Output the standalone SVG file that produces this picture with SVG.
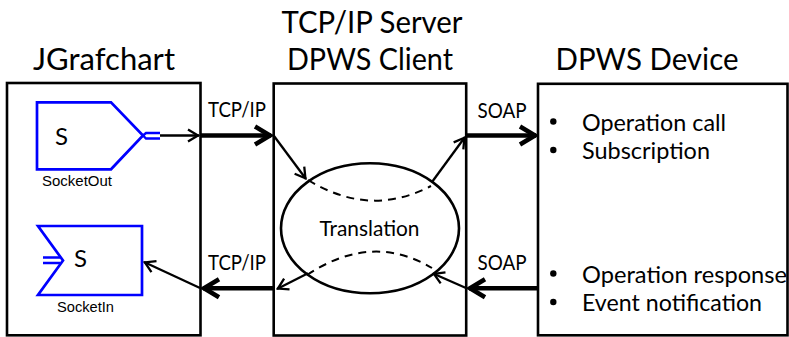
<svg xmlns="http://www.w3.org/2000/svg" width="789" height="337" viewBox="0 0 789 337">
<style>
text{font-family:Lato,"Open Sans","Liberation Sans",sans-serif;fill:#000}
.title{font-size:30px}
.lbl{font-size:21px}
.item{font-size:24px}
.small{font-family:"Liberation Sans",Arial,sans-serif;font-size:14px}
.big-s{font-size:24px}
.box{fill:#fff;stroke:#000;stroke-width:2.6}
.sock{fill:#fff;stroke:#0000ff;stroke-width:2.7}
.sockline{fill:none;stroke:#0000ff;stroke-width:2.4}
.thick{fill:none;stroke:#000;stroke-width:4.5;marker-end:url(#ahThick)}
.thin{fill:none;stroke:#000;stroke-width:2.3;marker-end:url(#ahThin)}
.dash{fill:none;stroke:#000;stroke-width:2;stroke-dasharray:8 6}
</style>
<defs>
<marker id="ahThick" markerUnits="userSpaceOnUse" viewBox="-20 -12 24 24" markerWidth="24" markerHeight="24" refX="1" refY="0" orient="auto">
<path d="M-15,-9 L0,0 L-15,9" fill="none" stroke="#000" stroke-width="4.5"/>
</marker>
<marker id="ahThin" markerUnits="userSpaceOnUse" viewBox="-14 -10 18 20" markerWidth="18" markerHeight="20" refX="1" refY="0" orient="auto">
<path d="M-10,-6 L0,0 L-10,6" fill="none" stroke="#000" stroke-width="2.3"/>
</marker>
</defs>
<rect width="789" height="337" fill="#fff"/>

<g id="jgrafchart">
<text class="title" x="104" y="70" text-anchor="middle" textLength="142" lengthAdjust="spacingAndGlyphs">JGrafchart</text>
<rect class="box" x="7" y="83" width="193.5" height="252.3"/>
</g>

<g id="socketout">
<polygon class="sock" points="37,102.3 111,102.3 143,135.5 111,169.3 37,169.3"/>
<path class="sockline" d="M143,135.5 L146,133 L160,133 M143,135.5 L146,138.5 L160,138.5"/>
<text class="big-s" x="55" y="145">S</text>
<text class="small" x="42" y="186" textLength="70" lengthAdjust="spacingAndGlyphs">SocketOut</text>
</g>

<g id="socketin">
<polygon class="sock" points="38,226 142,226 142,295 38,295 63,260.5"/>
<path class="sockline" d="M43,257.5 L60,257.5 M43,263 L60,263"/>
<text class="big-s" x="74" y="267">S</text>
<text class="small" x="57" y="311.5" textLength="57" lengthAdjust="spacingAndGlyphs">SocketIn</text>
</g>

<g id="server">
<text class="title" x="372" y="33" text-anchor="middle" textLength="181" lengthAdjust="spacingAndGlyphs">TCP/IP Server</text>
<text class="title" x="370" y="70" text-anchor="middle" textLength="166" lengthAdjust="spacingAndGlyphs">DPWS Client</text>
<rect class="box" x="273.7" y="83.5" width="192.5" height="252"/>
</g>

<g id="translation">
<ellipse cx="370" cy="228.3" rx="89" ry="65" fill="none" stroke="#000" stroke-width="2.6"/>
<path class="dash" d="M308,180 Q370,218 431,186"/>
<path class="dash" d="M307,275 Q372,232 432,268"/>
<text class="lbl" x="369.5" y="236" text-anchor="middle" textLength="100" lengthAdjust="spacingAndGlyphs">Translation</text>
</g>

<g id="device">
<text class="title" x="647" y="70" text-anchor="middle" textLength="183" lengthAdjust="spacingAndGlyphs">DPWS Device</text>
<rect class="box" x="538" y="83.8" width="249.5" height="251.5"/>
<g>
<circle cx="553.3" cy="121.5" r="3.2"/>
<circle cx="553.3" cy="150" r="3.2"/>
<circle cx="553.3" cy="273.5" r="3.2"/>
<circle cx="553.3" cy="302" r="3.2"/>
</g>
<text class="item" x="582" y="130.5" textLength="144" lengthAdjust="spacingAndGlyphs">Operation call</text>
<text class="item" x="582" y="159" textLength="128" lengthAdjust="spacingAndGlyphs">Subscription</text>
<text class="item" x="582" y="282.5" textLength="205" lengthAdjust="spacingAndGlyphs">Operation response</text>
<text class="item" x="582" y="311" textLength="180" lengthAdjust="spacingAndGlyphs">Event notification</text>
</g>

<g id="connectors">
<line class="thin" x1="160" y1="135.5" x2="199" y2="135.5"/>
<line class="thick" x1="201" y1="135.5" x2="271" y2="135.5"/>
<line class="thin" x1="274" y1="136" x2="306" y2="179"/>
<line class="thin" x1="432" y1="182" x2="465" y2="137"/>
<line class="thick" x1="467" y1="135.5" x2="536" y2="135.5"/>
<line class="thick" x1="537" y1="288.3" x2="469" y2="288.3"/>
<line class="thin" x1="466" y1="288" x2="433" y2="273.5"/>
<line class="thin" x1="308" y1="273.3" x2="277" y2="289"/>
<line class="thick" x1="273" y1="288.3" x2="203" y2="288.3"/>
<line class="thin" x1="200" y1="288" x2="144" y2="262"/>
<text class="lbl" x="237" y="117" text-anchor="middle" textLength="58" lengthAdjust="spacingAndGlyphs">TCP/IP</text>
<text class="lbl" x="237" y="270" text-anchor="middle" textLength="58" lengthAdjust="spacingAndGlyphs">TCP/IP</text>
<text class="lbl" x="502" y="118" text-anchor="middle" textLength="49" lengthAdjust="spacingAndGlyphs">SOAP</text>
<text class="lbl" x="502" y="270" text-anchor="middle" textLength="49" lengthAdjust="spacingAndGlyphs">SOAP</text>
</g>
</svg>
